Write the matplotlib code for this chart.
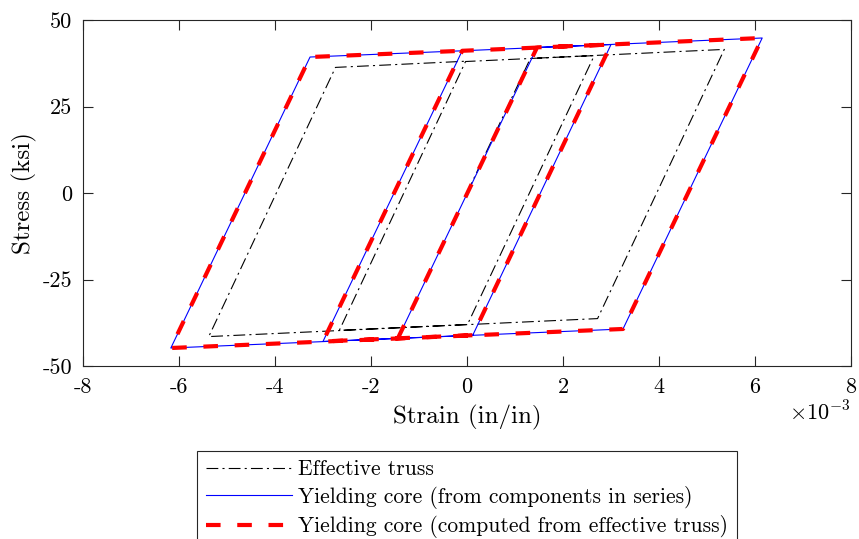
import matplotlib
matplotlib.use("Agg")
import matplotlib.pyplot as plt

# strain in units of 1e-3 in/in, stress in ksi
truss_strain = [0.00, 1.32, 2.65, 0.01, -2.66, -0.03, 5.36, 2.72, -5.38, -2.74, 0.00]
truss_stress = [0.0, 38.9, 39.7, -38.0, -39.7, 38.0, 41.5, -36.3, -41.5, 36.3, 38.1]

core_strain = [-1.44, 1.46, 3.00, 0.12, -3.00, -0.10, 6.15, 3.25, -6.17, -3.27, -0.10]
core_stress = [-42.0, 42.1, 42.9, -41.1, -42.9, 41.1, 44.8, -39.3, -44.8, 39.3, 41.1]

computed_strain = [-1.44, 1.46, 3.00, 0.12, -3.00, -0.10, 6.15, 3.25, -6.17, -3.27, -0.10]
computed_stress = [-42.0, 42.1, 42.9, -41.1, -42.9, 41.1, 44.8, -39.3, -44.8, 39.3, 41.1]

x_ticks = [-8, -6, -4, -2, 0, 2, 4, 6, 8]
y_ticks = [-50, -25, 0, 25, 50]

labels = ["Effective truss",
          "Yielding core (from components in series)",
          "Yielding core (computed from effective truss)"]

plt.rcParams["font.family"] = "cmr10"
plt.rcParams["mathtext.fontset"] = "cm"
plt.rcParams["axes.unicode_minus"] = False
plt.rcParams["axes.formatter.use_mathtext"] = True
plt.rcParams["lines.scale_dashes"] = False

axcol = (0.15, 0.15, 0.15)

fig = plt.figure(figsize=(8.59, 5.39), dpi=100)
ax = fig.add_axes([83 / 859, 173 / 539, 768 / 859, 346 / 539])

ax.plot(truss_strain, truss_stress, color="black", lw=0.8,
        dashes=(8.5, 3, 1.5, 3), label=labels[0])
ax.plot(core_strain, core_stress, color="blue", lw=0.8, label=labels[1])
ax.plot(computed_strain, computed_stress, color="red", lw=3,
        dashes=(10.5, 12), solid_joinstyle="round", dash_joinstyle="round",
        label=labels[2])

ax.set_xlim(-8, 8)
ax.set_ylim(-50, 50)
ax.set_xticks(x_ticks)
ax.set_xticklabels([str(v) for v in x_ticks])
ax.set_yticks(y_ticks)
ax.set_yticklabels([str(v) for v in y_ticks])
ax.tick_params(direction="in", length=7, width=0.8, color=axcol,
               top=True, right=True, labelsize=16, pad=8)
for s in ax.spines.values():
    s.set_color(axcol)
    s.set_linewidth(0.8)

ax.set_xlabel("Strain (in/in)", fontsize=18, labelpad=6)
ax.set_ylabel("Stress (ksi)", fontsize=18, labelpad=4)
fig.text(851 / 859, 1 - 412 / 539, r"$\times 10^{-3}$", fontsize=16,
         ha="right", va="center")

leg = fig.legend(loc="upper left", bbox_to_anchor=(197 / 859, 1 - 451 / 539),
                 fontsize=15.5, handlelength=4.0, handletextpad=0.3,
                 labelspacing=0.3, borderpad=0.4, borderaxespad=0,
                 fancybox=False, framealpha=1, edgecolor=axcol)
leg.get_frame().set_linewidth(0.8)

plt.savefig("out.png", dpi=100)
plt.close(fig)
